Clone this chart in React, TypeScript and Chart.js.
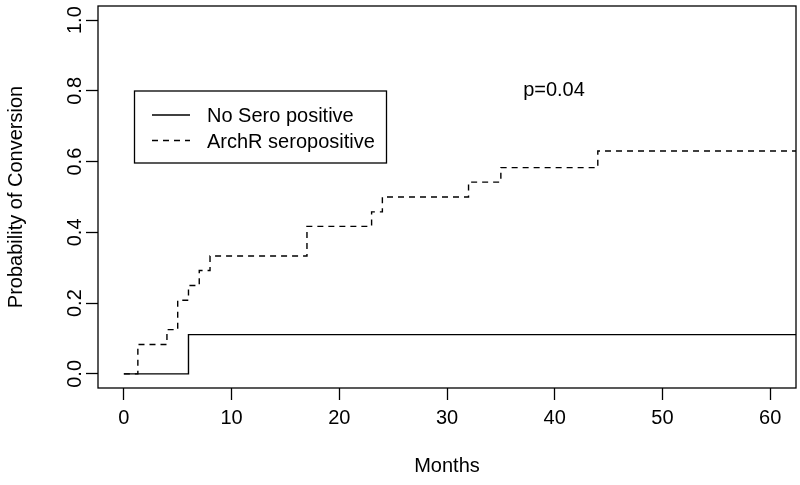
import React, { useEffect, useRef } from 'react';
import { Chart, registerables } from 'chart.js';

Chart.register(...registerables);

// ---- data ----
const noSeroMonths = [0, 6, 64];
const noSeroProb = [0, 0.111, 0.111];
const archRMonths = [0, 1.3, 4, 5, 6, 7, 8, 17, 23, 24, 32, 35, 44, 64];
const archRProb = [0, 0.083, 0.125, 0.208, 0.25, 0.292, 0.333, 0.417, 0.458, 0.5, 0.542, 0.583, 0.63, 0.63];
const xTicks = [0, 10, 20, 30, 40, 50, 60];
const yTicks = [0, 0.2, 0.4, 0.6, 0.8, 1.0];
const seriesLabels = ['No Sero positive', 'ArchR seropositive'];
const xTitle = 'Months';
const yTitle = 'Probability of Conversion';
const pText = 'p=0.04';

const FONT = '"Liberation Sans", Arial, Helvetica, sans-serif';
const FS = 20;
const DASH = [6, 5];
const LW = 1.4;
const INK = '#000';

const decor = {
  id: 'decor',
  afterDraw(chart: any) {
    const { ctx, chartArea, scales } = chart;
    const { left, top, right, bottom } = chartArea;
    const y = scales.y;
    ctx.save();
    // plot box
    ctx.strokeStyle = INK;
    ctx.lineWidth = 1.3;
    ctx.strokeRect(left, top, right - left, bottom - top);

    // y tick labels (rotated, R style)
    ctx.fillStyle = INK;
    ctx.font = `${FS}px ${FONT}`;
    ctx.textAlign = 'center';
    ctx.textBaseline = 'middle';
    yTicks.forEach((v) => {
      const py = y.getPixelForValue(v);
      ctx.save();
      ctx.translate(left - 23, py);
      ctx.rotate(-Math.PI / 2);
      ctx.fillText(v.toFixed(1), 0, 0);
      ctx.restore();
    });

    // p-value annotation
    ctx.textAlign = 'center';
    ctx.textBaseline = 'middle';
    ctx.fillText(pText, 554, 90);

    // legend
    const bx = 134.5, by = 91, bw = 252, bh = 72;
    ctx.lineWidth = 1.3;
    ctx.strokeRect(bx, by, bw, bh);
    const rows = [115, 140.5];
    rows.forEach((ry, i) => {
      ctx.beginPath();
      ctx.setLineDash(i === 1 ? DASH : []);
      ctx.lineWidth = LW;
      ctx.moveTo(152, ry);
      ctx.lineTo(190, ry);
      ctx.stroke();
      ctx.setLineDash([]);
      ctx.textAlign = 'left';
      ctx.textBaseline = 'alphabetic';
      ctx.fillText(seriesLabels[i], 207, ry + 7);
    });
    ctx.restore();
  },
};

export default function App() {
  const ref = useRef<HTMLCanvasElement | null>(null);

  useEffect(() => {
    if (!ref.current) return;
    const tickFont = { family: FONT, size: FS };
    const chart = new Chart(ref.current, {
      type: 'line',
      data: {
        datasets: [
          {
            label: seriesLabels[0],
            data: noSeroMonths.map((x, i) => ({ x, y: noSeroProb[i] })),
            stepped: 'before',
            borderColor: INK,
            borderWidth: LW,
            pointRadius: 0,
            fill: false,
          },
          {
            label: seriesLabels[1],
            data: archRMonths.map((x, i) => ({ x, y: archRProb[i] })),
            stepped: 'before',
            borderColor: INK,
            borderWidth: LW,
            borderDash: DASH,
            pointRadius: 0,
            fill: false,
          },
        ],
      },
      options: {
        responsive: false,
        animation: false,
        layout: { padding: { left: 0, right: 4, top: 6, bottom: 0 } },
        plugins: { legend: { display: false }, tooltip: { enabled: false } },
        scales: {
          x: {
            type: 'linear',
            min: -2.4,
            max: 62.4,
            afterBuildTicks: (s: any) => {
              s.ticks = xTicks.map((v) => ({ value: v }));
            },
            afterFit: (s: any) => {
              s.height = 97;
            },
            border: { display: false },
            grid: {
              display: true,
              drawOnChartArea: false,
              drawTicks: true,
              tickLength: 12,
              tickColor: INK,
              tickWidth: 1.3,
            },
            ticks: {
              color: INK,
              font: tickFont,
              padding: 6,
              maxRotation: 0,
              minRotation: 0,
              autoSkip: false,
              callback: (v: any) => String(v),
            },
            title: {
              display: true,
              text: xTitle,
              color: INK,
              font: tickFont,
              padding: { top: 0, bottom: 7 },
            },
          },
          y: {
            type: 'linear',
            min: -0.04,
            max: 1.04,
            afterBuildTicks: (s: any) => {
              s.ticks = yTicks.map((v) => ({ value: v }));
            },
            afterFit: (s: any) => {
              s.width = 98;
            },
            border: { display: false },
            grid: {
              display: true,
              drawOnChartArea: false,
              drawTicks: true,
              tickLength: 12,
              tickColor: INK,
              tickWidth: 1.3,
            },
            ticks: { display: false },
            title: {
              display: true,
              text: yTitle,
              color: INK,
              font: tickFont,
              padding: { top: 4, bottom: 0 },
            },
          },
        },
      },
      plugins: [decor],
    } as any);
    return () => chart.destroy();
  }, []);

  return (
    <div style={{ position: 'absolute', left: 0, top: 0, width: 800, height: 485, background: '#fff' }}>
      <canvas ref={ref} width={800} height={485} />
    </div>
  );
}
